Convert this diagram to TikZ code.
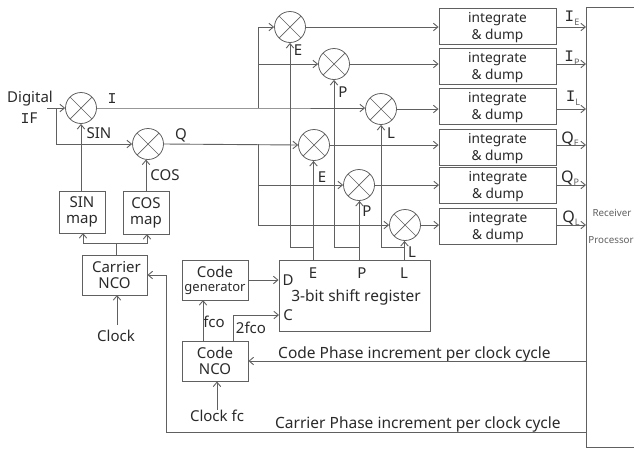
\documentclass[tikz,border=0pt]{standalone}
\usepackage{fontspec}
\setmainfont{Noto Sans}
\newfontfamily\serI{Liberation Mono}
\usetikzlibrary{arrows.meta}
\definecolor{ln}{HTML}{606060}
\definecolor{tx}{HTML}{2A2A2A}
\newcommand{\II}{{\serI I}}
\newcommand{\fs}[1]{\fontsize{#1}{#1}\selectfont}
\newcommand{\fsi}{\fontsize{13.7}{17}\selectfont}
\newcommand{\outsub}[2]{#1\raisebox{-3.5pt}{\textcolor{ln}{\fs{9}#2}}}
\newcommand{\intxt}{\rule{0pt}{13pt}integrate\\\& dump}
\tikzset{
  x=1pt,y=-1pt,
  >={Straight Barb[length=4.5pt,width=7.5pt]},
  wire/.style={draw=ln,line width=0.9pt},
  feed/.style={wire,->},
  blk/.style={draw=ln,line width=0.9pt,rectangle,inner sep=0pt,align=center,text=tx,font=\fs{15}},
  intg/.style={blk,minimum width=117,minimum height=36,font=\fsi},
  mixer/.style={circle,draw=ln,line width=0.8pt,minimum size=31,inner sep=0pt,
    path picture={\draw[ln,line width=0.7pt]
      (path picture bounding box.north west)--(path picture bounding box.south east)
      (path picture bounding box.north east)--(path picture bounding box.south west);}},
  lab/.style={text=tx,inner sep=0pt,font=\fs{15}},
  longlab/.style={text=tx,inner sep=0pt,font=\fs{15.5}},
  sublab/.style={text=tx,inner sep=0pt,font=\fs{16}},
  tinylab/.style={text=ln,inner sep=0pt,font=\fs{9.8}},
}
\begin{document}
\begin{tikzpicture}
\useasboundingbox (0,0) rectangle (634,448);
\clip (0,0) rectangle (634,448);
% mixers
\node[mixer] (m0) at (81,108) {};
\node[mixer] (mq) at (148,144) {};
\node[mixer] (e1) at (290,27) {};
\node[mixer] (p1) at (334,64) {};
\node[mixer] (l1) at (381,109) {};
\node[mixer] (e2) at (314,145) {};
\node[mixer] (p2) at (359,185) {};
\node[mixer] (l2) at (405,225) {};
% integrate boxes
\node[intg] (i1) at (497.5,26) {\intxt};
\node[intg] (i2) at (497.5,66.5) {\intxt};
\node[intg] (i3) at (497.5,106) {\intxt};
\node[intg] (i4) at (497.5,147) {\intxt};
\node[intg] (i5) at (498,185.5) {\intxt};
\node[intg] (i6) at (498,226) {\intxt};
% receiver
\node[draw=ln,line width=0.9pt,rectangle,minimum width=60,minimum height=440,inner sep=0pt,anchor=north west] (rp) at (586,7) {};
\node[tinylab] (rt1) at (612,213) {Receiver};
\node[tinylab] (rt2) at (611,240) {Processor};
% blocks
\node[blk,minimum width=46,minimum height=42] (sin) at (82,212) {SIN\\[1pt]map};
\node[blk,minimum width=46,minimum height=43] (cos) at (146,212.5) {COS\\[1pt]map};
\node[blk,minimum width=65,minimum height=40] (car) at (114.5,275) {\ Carrier\\[1pt]NCO};
\node[blk,minimum width=66,minimum height=40] (gen) at (215,280) {Code\\[-1pt]{\fs{13}generator}};
\node[blk,minimum width=66,minimum height=40] (nco) at (215,361) {Code\\[1pt]NCO};
\node[blk,minimum width=151,minimum height=71] (sr) at (354.5,295.5) {};
\node[longlab] (srt) at (356,297) {3-bit shift register};
\node[lab] (sre) at (313,273) {E};
\node[lab] (srp) at (362,273) {P};
\node[lab] (srl) at (404,273) {L};
\node[lab] (srd) at (288,280) {D};
\node[lab] (src) at (288,315) {C};
% plain labels
\node[lab] (dig) at (30,99) {Digital};
\node[lab] (if) at (29,118) {\II F};
\node[lab] (li) at (112,99) {\II};
\node[lab] (lq) at (181,135) {Q};
\node[lab] (lsin) at (99,133) {SIN};
\node[lab] (lcos) at (165,175) {COS};
\node[lab] (le1) at (298,50) {E};
\node[lab] (lp1) at (343,92) {P};
\node[lab] (ll1) at (391,133) {L};
\node[lab] (le2) at (322,177) {E};
\node[lab] (lp2) at (367,211) {P};
\node[lab] (ll2) at (412,252) {L};
\node[lab] (lfco) at (214,322) {fco};
\node[lab] (l2fco) at (251,328) {2fco};
\node[lab] (clk) at (116,336) {Clock};
\node[lab] (clkf) at (217,416) {Clock fc};
\node[longlab,anchor=west] (cdp) at (278,354) {Code Phase increment per clock cycle};
\node[longlab,anchor=west] (crp) at (275,424) {Carrier Phase increment per clock cycle};
\node[sublab] (o1) at (572,18) {\outsub{\II}{E}};
\node[sublab] (o2) at (572,58) {\outsub{\II}{P}};
\node[sublab] (o3) at (573,98) {\outsub{\II}{L}};
\node[sublab] (o4) at (570,139) {\outsub{Q}{E}};
\node[sublab] (o5) at (570,178) {\outsub{Q}{P}};
\node[sublab] (o6) at (571,218) {\outsub{Q}{L}};
% coordinates
\coordinate (in) at (47,108);
\coordinate (inb) at (56,108);
\coordinate (ib) at (258.5,108);
\coordinate (qb) at (258.5,144);
% input
\draw[feed] (in) -- (m0.west);
\draw[feed] (inb) |- (mq.west);
% I / Q buses
\draw[feed] (m0.east) -- (ib) -- (ib -| l1.west);
\draw[feed] (ib) |- (e1.west);
\draw[feed] (ib |- p1.west) -- (p1.west);
\draw[feed] (mq.east) -- (e2.west);
\draw[feed] (qb) |- (l2.west);
\draw[feed] (qb |- p2.west) -- (p2.west);
% mixer to integrate
\foreach \m/\n in {e1/i1,p1/i2,l1/i3,e2/i4,p2/i5,l2/i6}{
  \draw[feed] (\m.east) -- (\m.east -| \n.west);
  \draw[feed] (\m.east -| \n.east) -- (\m.east -| rp.west);
}
% code feedback
\coordinate (ej) at (313.5,247);
\coordinate (pj) at (359.5,247);
\coordinate (lj) at (404.5,247);
\draw[feed] (ej |- sr.north) -- (ej |- e2.south);
\draw[feed] (pj |- sr.north) -- (pj |- p2.south);
\draw[feed] (lj |- sr.north) -- (lj |- l2.south);
\draw[feed] (ej) -| (e1.south);
\draw[feed] (pj) -| (p1.south);
\draw[feed] (lj) -| (l1.south);
% maps
\coordinate (cj) at (116,243.5);
\coordinate (sj) at (83,233);
\coordinate (kj) at (147,234);
\draw[feed] (m0.south |- sin.north) -- (m0.south);
\draw[feed] (146,190.5) -- (146,159.5);
\draw[wire] (cj |- car.north) -- (cj);
\draw[feed] (cj) -| (sj);
\draw[feed] (cj) -| (kj);
\draw[feed] (117,325) -- (117,295);
% code
\draw[feed] (gen.east) -- (gen.east -| sr.west);
\draw[feed] (203,341) -- (203,300);
\draw[feed] (233,341) |- (279,315);
\draw[feed] (clkf.north) -- (clkf.north |- nco.south);
\draw[feed] (nco.east -| rp.west) -- (nco.east);
\draw[feed] (586,432) -| (166,275) -- (car.east);
\end{tikzpicture}
\end{document}
